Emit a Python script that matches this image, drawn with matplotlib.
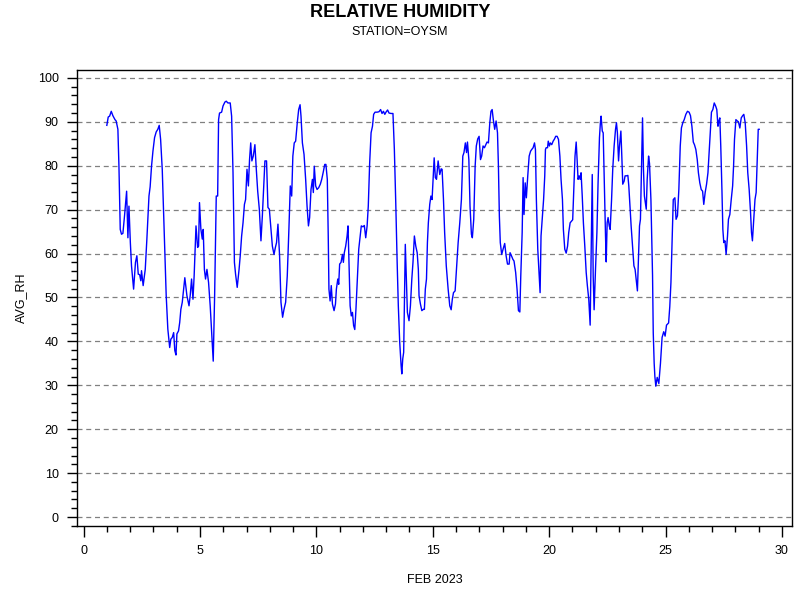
import matplotlib
matplotlib.use("Agg")
import matplotlib.pyplot as plt
from matplotlib.ticker import MultipleLocator

plt.rcParams['font.family'] = ['Liberation Sans', 'DejaVu Sans']

# day of month (Feb 2023) and hourly average relative humidity
day = [
    1.00, 1.06, 1.12, 1.19, 1.26, 1.35, 1.40, 1.475, 1.52, 1.576, 1.63, 1.69, 1.76, 1.85, 1.905, 1.95,
    2.01, 2.06, 2.15, 2.23, 2.29, 2.35, 2.41, 2.46, 2.49, 2.56, 2.65, 2.72, 2.81, 2.86, 2.92, 2.98,
    3.05, 3.12, 3.19, 3.25, 3.31, 3.38, 3.45, 3.51, 3.55, 3.62, 3.70, 3.75, 3.81, 3.87, 3.92, 3.97,
    4.01, 4.08, 4.13, 4.18, 4.24, 4.30, 4.35, 4.44, 4.53, 4.58, 4.64, 4.70, 4.75, 4.83, 4.90, 4.94,
    4.98, 5.04, 5.10, 5.14, 5.19, 5.24, 5.30, 5.37, 5.44, 5.51, 5.57, 5.63, 5.70, 5.76, 5.80, 5.84,
    5.93, 5.99, 6.07, 6.13, 6.20, 6.30, 6.36, 6.42, 6.48, 6.53, 6.60, 6.68, 6.73, 6.79, 6.85, 6.91,
    6.96, 7.02, 7.08, 7.13, 7.18, 7.23, 7.29, 7.36, 7.42, 7.48, 7.55, 7.62, 7.68, 7.74, 7.79, 7.86,
    7.92, 7.98, 8.05, 8.11, 8.18, 8.24, 8.29, 8.35, 8.42, 8.48, 8.55, 8.61, 8.68, 8.75, 8.82, 8.88,
    8.94, 8.99, 9.05, 9.11, 9.18, 9.24, 9.30, 9.34, 9.40, 9.47, 9.54, 9.60, 9.66, 9.71, 9.77, 9.83,
    9.87, 9.91, 9.97, 10.03, 10.10, 10.17, 10.23, 10.29, 10.36, 10.41, 10.47, 10.51, 10.54, 10.59,
    10.64, 10.69, 10.76, 10.82, 10.86, 10.92, 10.96, 11.00, 11.06, 11.12, 11.16, 11.20, 11.26, 11.32,
    11.36, 11.40, 11.45, 11.50, 11.55, 11.60, 11.65, 11.70, 11.76, 11.82, 11.88, 11.93, 12.00, 12.06,
    12.12, 12.18, 12.23, 12.29, 12.35, 12.41, 12.46, 12.52, 12.61, 12.69, 12.76, 12.82, 12.88, 12.94,
    12.99, 13.06, 13.12, 13.21, 13.29, 13.35, 13.41, 13.47, 13.52, 13.58, 13.64, 13.67, 13.71, 13.75,
    13.79, 13.82, 13.87, 13.91, 13.98, 14.04, 14.10, 14.15, 14.21, 14.27, 14.33, 14.38, 14.41, 14.47,
    14.53, 14.60, 14.64, 14.68, 14.73, 14.77, 14.81, 14.87, 14.92, 14.97, 15.06, 15.11, 15.16, 15.23,
    15.30, 15.36, 15.40, 15.46, 15.51, 15.58, 15.66, 15.73, 15.79, 15.84, 15.89, 15.96, 16.02, 16.09,
    16.16, 16.23, 16.29, 16.34, 16.40, 16.45, 16.49, 16.55, 16.60, 16.66, 16.70, 16.76, 16.82, 16.87,
    16.93, 16.99, 17.05, 17.10, 17.16, 17.22, 17.28, 17.33, 17.39, 17.45, 17.50, 17.55, 17.60, 17.66,
    17.72, 17.78, 17.82, 17.86, 17.90, 17.96, 18.02, 18.09, 18.15, 18.21, 18.28, 18.32, 18.38, 18.44,
    18.49, 18.56, 18.62, 18.68, 18.74, 18.78, 18.84, 18.88, 18.92, 18.97, 19.02, 19.08, 19.14, 19.20,
    19.25, 19.31, 19.37, 19.41, 19.45, 19.51, 19.57, 19.61, 19.65, 19.70, 19.76, 19.81, 19.84, 19.87,
    19.93, 19.96, 20.01, 20.05, 20.11, 20.17, 20.23, 20.28, 20.34, 20.40, 20.46, 20.51, 20.57, 20.61,
    20.67, 20.73, 20.79, 20.84, 20.90, 20.96, 21.01, 21.07, 21.11, 21.16, 21.20, 21.24, 21.29, 21.33,
    21.37, 21.42, 21.47, 21.53, 21.59, 21.64, 21.70, 21.76, 21.80, 21.85, 21.89, 21.93, 21.99, 22.05,
    22.10, 22.16, 22.20, 22.23, 22.28, 22.32, 22.38, 22.42, 22.45, 22.49, 22.53, 22.58, 22.62, 22.68,
    22.73, 22.79, 22.85, 22.89, 22.93, 22.98, 23.02, 23.08, 23.12, 23.16, 23.22, 23.26, 23.32, 23.38,
    23.42, 23.46, 23.52, 23.58, 23.64, 23.69, 23.75, 23.79, 23.84, 23.88, 23.92, 23.96, 24.01, 24.05,
    24.09, 24.17, 24.21, 24.27, 24.31, 24.37, 24.40, 24.44, 24.47, 24.51, 24.54, 24.58, 24.64, 24.71,
    24.78, 24.85, 24.92, 24.98, 25.04, 25.13, 25.18, 25.23, 25.27, 25.33, 25.40, 25.45, 25.51, 25.57,
    25.63, 25.68, 25.74, 25.80, 25.87, 25.94, 26.01, 26.07, 26.13, 26.19, 26.24, 26.30, 26.36, 26.41,
    26.47, 26.53, 26.59, 26.64, 26.70, 26.76, 26.82, 26.87, 26.93, 26.97, 27.03, 27.09, 27.15, 27.20,
    27.25, 27.29, 27.33, 27.37, 27.42, 27.46, 27.50, 27.55, 27.60, 27.66, 27.70, 27.76, 27.82, 27.88,
    27.92, 27.96, 28.02, 28.08, 28.13, 28.19, 28.25, 28.31, 28.36, 28.42, 28.48, 28.53, 28.59, 28.65,
    28.69, 28.73, 28.78, 28.84, 28.89, 28.94, 28.98, 29.02,
]
avg_rh = [
    89.2, 91.1, 91.3, 92.4, 91.4, 90.5, 90.2, 88.3, 79.9, 65.5, 64.4, 64.6, 68.6, 74.2, 63.6, 70.8,
    62.5, 57.2, 51.9, 58.0, 59.5, 55.3, 55.2, 53.8, 56.1, 52.7, 56.4, 63.3, 73.1, 75.2, 79.9, 83.3,
    86.4, 87.7, 88.3, 89.2, 86.0, 79.2, 67.0, 57.2, 50.4, 42.8, 38.6, 40.5, 40.9, 42.0, 37.9, 36.9,
    41.7, 42.4, 44.3, 47.3, 48.9, 51.9, 54.5, 50.4, 48.1, 50.4, 54.2, 49.6, 54.9, 66.3, 61.4, 61.7,
    71.6, 65.5, 63.3, 65.5, 56.4, 54.2, 56.4, 53.4, 48.1, 41.3, 35.5, 50.4, 73.1, 73.1, 90.5, 92.0,
    92.2, 93.6, 94.5, 94.7, 94.3, 94.3, 91.3, 78.4, 58.0, 55.3, 52.3, 56.4, 59.5, 64.0, 67.0, 71.2,
    72.3, 79.2, 75.4, 81.4, 85.2, 81.1, 82.2, 84.8, 79.2, 74.2, 70.1, 62.9, 68.6, 75.4, 81.1, 81.1,
    70.5, 70.1, 65.5, 61.7, 59.8, 61.4, 62.5, 66.7, 59.5, 48.9, 45.5, 47.3, 48.9, 54.9, 65.5, 75.4,
    73.1, 82.2, 85.2, 85.6, 89.8, 92.8, 93.9, 91.3, 85.2, 82.6, 76.9, 70.8, 66.3, 68.2, 74.6, 76.9,
    73.9, 79.9, 75.4, 74.6, 75.0, 75.8, 76.9, 78.4, 80.3, 80.3, 76.9, 64.0, 51.9, 49.2,
    52.7, 48.5, 47.0, 48.5, 51.9, 54.2, 53.0, 57.6, 58.0, 59.8, 58.0, 60.2, 61.7, 64.0,
    66.3, 58.0, 48.1, 45.8, 46.6, 43.6, 42.7, 47.3, 54.2, 61.0, 64.0, 66.3, 66.1, 66.4,
    63.6, 66.3, 70.8, 80.7, 87.5, 89.0, 91.7, 92.2, 92.2, 92.3, 92.8, 91.9, 92.4, 91.7,
    92.2, 92.7, 92.0, 91.9, 91.9, 83.7, 71.6, 58.0, 48.1, 39.8, 34.5, 32.6, 36.0, 37.5,
    51.9, 62.1, 53.4, 46.6, 44.7, 48.1, 54.2, 58.0, 64.0, 61.7, 60.2, 56.4, 50.4, 48.5,
    47.0, 47.3, 47.3, 51.9, 54.2, 62.5, 67.0, 71.2, 73.1, 72.3, 81.8, 77.3, 76.9, 81.1,
    78.0, 79.3, 79.2, 72.3, 64.8, 57.2, 51.9, 48.1, 47.2, 49.6, 51.1, 51.5, 56.4, 62.5,
    67.0, 72.3, 82.2, 83.0, 85.2, 83.0, 85.4, 81.4, 70.8, 64.4, 63.6, 67.8, 79.9, 84.5,
    86.1, 86.7, 81.4, 82.2, 84.5, 84.1, 84.8, 85.4, 85.2, 89.8, 92.4, 92.8, 90.5, 88.3,
    90.2, 87.5, 79.9, 68.6, 62.5, 59.8, 61.0, 62.3, 59.5, 57.6, 57.6, 60.2, 59.5, 58.7,
    58.3, 55.7, 51.9, 47.0, 46.7, 54.9, 64.8, 77.3, 68.9, 76.1, 72.7, 77.7, 82.2, 83.3,
    83.7, 84.1, 85.2, 83.7, 72.3, 61.0, 54.9, 51.1, 64.0, 67.8, 72.3, 77.7, 83.7, 84.1,
    84.1, 85.6, 84.5, 85.2, 84.8, 85.6, 86.1, 86.7, 86.7, 86.0, 82.2, 76.9, 72.3, 65.5,
    61.0, 60.1, 61.7, 64.8, 67.0, 67.4, 67.7, 76.1, 82.2, 85.4, 81.4, 76.9, 77.7, 76.9,
    78.4, 73.1, 67.0, 61.7, 55.7, 52.7, 49.6, 43.7, 59.5, 78.0, 54.9, 47.2, 56.4, 64.8,
    76.1, 86.4, 89.8, 91.3, 87.9, 87.5, 73.1, 64.0, 58.1, 67.0, 68.2, 66.3, 65.5, 72.3,
    79.2, 84.5, 88.3, 89.8, 87.5, 81.1, 84.5, 87.9, 82.2, 75.8, 76.5, 77.7, 77.7, 77.8,
    75.4, 71.6, 66.3, 61.7, 57.2, 56.4, 53.4, 51.5, 59.5, 66.3, 67.8, 78.4, 90.9, 79.2,
    73.1, 70.1, 76.9, 82.2, 80.5, 72.3, 65.0, 55.0, 42.0, 35.0, 32.0, 29.8, 31.8, 30.4,
    35.0, 40.9, 42.2, 41.2, 43.7, 44.2, 47.9, 53.4, 61.0, 72.3, 72.7, 67.8, 68.6, 74.6,
    84.5, 88.6, 89.8, 90.5, 91.7, 92.4, 92.2, 91.4, 89.0, 85.4, 84.8, 83.7, 81.4, 78.4,
    76.1, 74.6, 74.2, 71.2, 73.9, 75.8, 78.4, 83.0, 88.3, 92.2, 92.8, 94.3, 93.6, 92.8,
    89.0, 90.2, 90.9, 84.5, 74.6, 65.5, 62.5, 62.9, 59.8, 64.0, 67.8, 68.9, 72.3, 75.4,
    79.9, 86.0, 90.5, 90.2, 90.0, 88.6, 90.9, 91.4, 91.7, 89.8, 84.5, 78.4, 74.6, 69.3,
    64.8, 62.9, 67.0, 72.3, 73.9, 82.2, 88.3, 88.3,
]

x_ticks = [0, 5, 10, 15, 20, 25, 30]
y_ticks = [0, 10, 20, 30, 40, 50, 60, 70, 80, 90, 100]

fig = plt.figure(figsize=(8, 6), dpi=100)
ax = fig.add_axes([0.096, 0.1233, 0.894, 0.76])

for v in y_ticks:
    ax.axhline(v, color='#808080', linestyle=(0, (4, 3)), linewidth=0.9, zorder=1)

ax.plot(day, avg_rh, color='#0000ff', linewidth=1.0, zorder=3)

ax.set_xlim(-0.29, 30.43)
ax.set_ylim(-2.05, 101.8)
ax.set_xticks(x_ticks)
ax.set_yticks(y_ticks)
ax.xaxis.set_minor_locator(MultipleLocator(1))
ax.yaxis.set_minor_locator(MultipleLocator(2))
ax.tick_params(which='major', direction='out', length=8, width=1, labelsize=9, pad=6)
ax.tick_params(which='minor', direction='out', length=4, width=1)
ax.tick_params(axis='y', which='major', length=7)
for sp in ax.spines.values():
    sp.set_linewidth(1)

ax.set_xlabel('FEB 2023', fontsize=9, labelpad=12)
ax.set_ylabel('AVG_RH', fontsize=9, labelpad=8)

fig.text(0.5, 0.979, 'RELATIVE HUMIDITY', ha='center', va='center', fontsize=13, fontweight='bold')
fig.text(0.5, 0.947, 'STATION=OYSM', ha='center', va='center', fontsize=9)

fig.savefig('out.png', dpi=100)
